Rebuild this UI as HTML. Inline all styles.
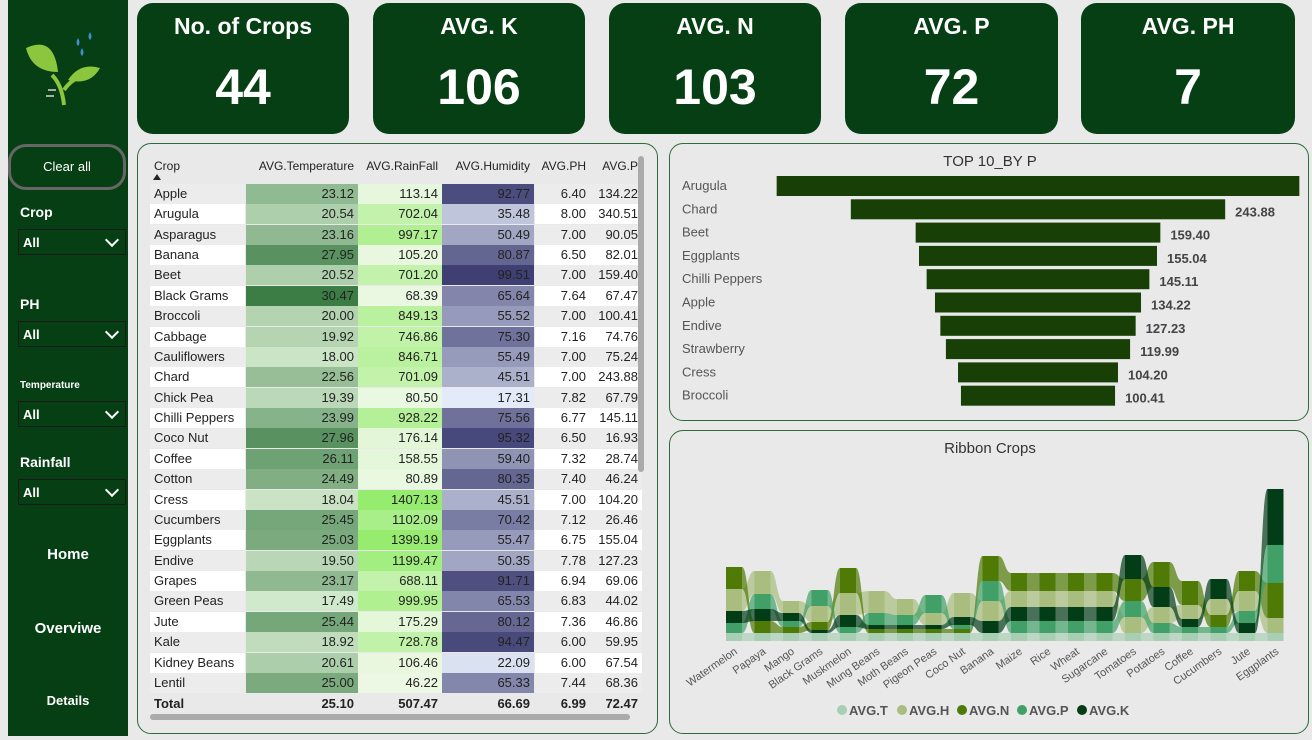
<!DOCTYPE html>
<html><head><meta charset="utf-8">
<style>
*{box-sizing:border-box;margin:0;padding:0}
body{width:1312px;height:736px;background:#e9e9e9;font-family:"Liberation Sans","DejaVu Sans",sans-serif;position:relative;overflow:hidden}
.abs{position:absolute}
#side{left:8px;top:0;width:120px;height:736px;background:#073f15}
.kpi{position:absolute;top:3px;height:131px;background:#073f15;border-radius:16px;color:#fff;text-align:center}
.kpi .t{font-size:23px;margin-top:10px;font-weight:bold}
.kpi .v{font-size:50px;font-weight:bold;margin-top:18px}
.panel{position:absolute;border:1px solid #2f6b3a;border-radius:14px;background:#e9e9e9}
.sl{color:#fff;font-weight:bold;font-size:14px;position:absolute;left:12px}
.dd{position:absolute;left:10px;width:108px;height:26px;border:1px solid #1a1a1a;color:#fff;font-size:13px;font-weight:bold;padding:5px 4px}
.dd:after{content:"";position:absolute;right:8px;top:5px;width:8px;height:8px;border-right:2px solid #fff;border-bottom:2px solid #fff;transform:rotate(45deg)}
.nav{position:absolute;left:0;width:120px;text-align:center;color:#fff;font-weight:bold;font-size:15px}
#tbl div{position:absolute;font-size:13px;color:#222;white-space:nowrap}
#tbl div.hd{font-size:12px}
</style></head><body>
<div id="side" class="abs">
 <svg class="abs" style="left:16px;top:30px" width="80" height="80">
  <path d="M40 75 Q38 55 28 45" stroke="#8cc63f" stroke-width="4" fill="none"/>
  <path d="M40 60 Q48 48 62 45" stroke="#8cc63f" stroke-width="4" fill="none"/>
  <path d="M2 18 Q30 5 34 42 Q8 42 2 18Z" fill="#8cc63f"/>
  <path d="M44 50 Q56 32 76 38 Q66 56 44 50Z" fill="#8cc63f"/>
  <path d="M54 8 q3 5 0 8 q-3-3 0-8Z M66 2 q3 5 0 8 q-3-3 0-8Z M58 18 q3 5 0 8 q-3-3 0-8Z" fill="#3b8fd6"/>
  <path d="M24 60 h8 M22 66 h8" stroke="#aaa" stroke-width="2"/>
 </svg>
 <div class="abs" style="left:0;top:144px;width:118px;height:46px;border:3px solid #666;border-radius:18px;color:#fff;font-size:13px;text-align:center;line-height:40px">Clear all</div>
 <div class="sl" style="top:204px">Crop</div>
 <div class="dd" style="top:229px">All</div>
 <div class="sl" style="top:296px">PH</div>
 <div class="dd" style="top:321px">All</div>
 <div class="sl" style="top:380px;font-size:10px">Temperature</div>
 <div class="dd" style="top:401px">All</div>
 <div class="sl" style="top:454px">Rainfall</div>
 <div class="dd" style="top:479px">All</div>
 <div class="nav" style="top:546px">Home</div>
 <div class="nav" style="top:620px">Overviwe</div>
 <div class="nav" style="top:693px;font-size:13px">Details</div>
</div>

<div class="kpi" style="left:137px;width:212px"><div class="t">No. of Crops</div><div class="v">44</div></div>
<div class="kpi" style="left:373px;width:212px"><div class="t">AVG. K</div><div class="v">106</div></div>
<div class="kpi" style="left:609px;width:212px"><div class="t">AVG. N</div><div class="v">103</div></div>
<div class="kpi" style="left:845px;width:213px"><div class="t">AVG. P</div><div class="v">72</div></div>
<div class="kpi" style="left:1081px;width:214px"><div class="t">AVG. PH</div><div class="v">7</div></div>

<div class="panel" style="left:137px;top:143px;width:521px;height:591px">
 <div id="tbl" class="abs" style="left:0;top:0;width:521px;height:591px"></div>
 <div class="abs" style="left:500px;top:12px;width:6px;height:316px;background:#aaa;border-radius:3px"></div>
 <div class="abs" style="left:12px;top:570px;width:480px;height:6px;background:#aaa;border-radius:3px"></div>
</div>

<div class="panel" style="left:669px;top:143px;width:640px;height:278px">
 <svg id="bars" width="640" height="278"></svg>
</div>
<div class="panel" style="left:669px;top:430px;width:640px;height:304px">
 <svg id="rib" width="640" height="304"></svg>
</div>

<script>
const rowsCrop=["Apple","Arugula","Asparagus","Banana","Beet","Black Grams","Broccoli","Cabbage","Cauliflowers","Chard","Chick Pea","Chilli Peppers","Coco Nut","Coffee","Cotton","Cress","Cucumbers","Eggplants","Endive","Grapes","Green Peas","Jute","Kale","Kidney Beans","Lentil"];
const colTemp=[23.12,20.54,23.16,27.95,20.52,30.47,20.00,19.92,18.00,22.56,19.39,23.99,27.96,26.11,24.49,18.04,25.45,25.03,19.50,23.17,17.49,25.44,18.92,20.61,25.00];
const colRain=[113.14,702.04,997.17,105.20,701.20,68.39,849.13,746.86,846.71,701.09,80.50,928.22,176.14,158.55,80.89,1407.13,1102.09,1399.19,1199.47,688.11,999.95,175.29,728.78,106.46,46.22];
const colHum=[92.77,35.48,50.49,80.87,99.51,65.64,55.52,75.30,55.49,45.51,17.31,75.56,95.32,59.40,80.35,45.51,70.42,55.47,50.35,91.71,65.53,80.12,94.47,22.09,65.33];
const colPH=[6.40,8.00,7.00,6.50,7.00,7.64,7.00,7.16,7.00,7.00,7.82,6.77,6.50,7.32,7.40,7.00,7.12,6.75,7.78,6.94,6.83,7.36,6.00,6.00,7.44];
const colP=[134.22,340.51,90.05,82.01,159.40,67.47,100.41,74.76,75.24,243.88,67.79,145.11,16.93,28.74,46.24,104.20,26.46,155.04,127.23,69.06,44.02,46.86,59.95,67.54,68.36];
const totals=["25.10","507.47","66.69","6.99","72.47"];

function mix(a,b,t){t=Math.max(0,Math.min(1,t));return "rgb("+a.map((v,i)=>Math.round(v+(b[i]-v)*t)).join(",")+")";}
const T=document.getElementById("tbl");
function cell(txt,x,y,w,h,bg,align,bold,name,cls){const d=document.createElement("div");


if(cls)d.className=cls;
d.style.cssText=`left:${x}px;top:${y}px;width:${w}px;height:${h}px;line-height:${h}px;text-align:${align};padding:0 4px;${bg?"background:"+bg+";":""}${bold?"font-weight:bold;":""}`;d.textContent=txt;T.appendChild(d);}
const cols=[[108,112,"AVG.Temperature"],[220,84,"AVG.RainFall"],[304,92,"AVG.Humidity"],[397,55,"AVG.PH"],[452,52,"AVG.P"]];
cell("Crop",12,13,80,18,null,"left",false,"header-crop","hd");
cols.forEach((c,i)=>cell(c[2],c[0],13,c[1],18,null,"right",false,"header-col","hd"));
const s=document.createElementNS("http://www.w3.org/2000/svg","svg");


s.style.cssText="position:absolute;left:15px;top:30px";s.setAttribute("width","10");s.setAttribute("height","6");s.innerHTML='<path d="M0 6L4 0L8 6Z" fill="#222"/>';T.appendChild(s);
rowsCrop.forEach((c,i)=>{const y=40+i*20.37,h=20;
 cell(c,12,y,95,h,i%2?"#ffffff":"#ececec","left",false,"row-crop");
 cell(colTemp[i].toFixed(2),108,y,112,h,mix([214,236,208],[60,125,70],(colTemp[i]-17)/13.5),"right",false,"cell-temp");
 cell(colRain[i].toFixed(2),220,y,84,h,mix([236,248,228],[150,236,110],(colRain[i]-40)/1370),"right",false,"cell-rain");
 cell(colHum[i].toFixed(2),304,y,92,h,mix([232,240,252],[62,62,115],(colHum[i]-15)/85),"right",false,"cell-hum");
 cell(colPH[i].toFixed(2),397,y,55,h,i%2?"#ffffff":"#ececec","right",false,"cell-ph");
 cell(colP[i].toFixed(2),452,y,52,h,i%2?"#ffffff":"#ececec","right",false,"cell-p");
});
cell("Total",12,550,95,20,null,"left",true,"total-label");
totals.forEach((t,i)=>cell(t,cols[i][0],550,cols[i][1],20,null,"right",true,"total-value"));

const topCrops=["Arugula","Chard","Beet","Eggplants","Chilli Peppers","Apple","Endive","Strawberry","Cress","Broccoli"];
const topVals=[340.51,243.88,159.40,155.04,145.11,134.22,127.23,119.99,104.20,100.41];
const NS="http://www.w3.org/2000/svg";
function el(p,tag,at){const e=document.createElementNS(NS,tag);for(const k in at)e.setAttribute(k,at[k]);p.appendChild(e);return e;}
const B=document.getElementById("bars");
const bx=v=>v*1.535, cx=368;
let t=el(B,"text",{x:320,y:22,"text-anchor":"middle","font-size":15,fill:"#333"});t.textContent="TOP 10_BY P";


topCrops.forEach((c,i)=>{const y=32+i*23.3;
 const lb=el(B,"text",{x:12,y:y+14,"font-size":13,fill:"#555"});lb.textContent=c;
 
 
 const w=bx(topVals[i]);
 const r=el(B,"rect",{x:cx-w/2,y:y,width:w,height:20,fill:"#173f06"});
 
 
 if(i>0){const v=el(B,"text",{x:cx+w/2+10,y:y+17,"font-size":13,"font-weight":"bold",fill:"#444"});v.textContent=topVals[i].toFixed(2);
 
 }
});

const ribCats=["Watermelon","Papaya","Mango","Black Grams","Muskmelon","Mung Beans","Moth Beans","Pigeon Peas","Coco Nut","Banana","Maize","Rice","Wheat","Sugarcane","Tomatoes","Potatoes","Coffee","Cucumbers","Jute","Eggplants"];
const serT=[8,8,8,8,8,8,8,8,8,8,8,8,8,8,8,8,8,8,8,8];
const serH=[22,23,12,16,22,22,16,12,24,20,16,16,16,16,16,16,14,16,20,15];
const serN=[22,12,6,8,25,4,4,4,4,25,18,18,18,18,22,25,24,12,20,35];
const serP=[10,15,6,16,6,12,10,18,4,20,12,12,12,12,16,10,6,6,12,38];
const serK=[12,12,8,3,12,4,4,4,8,12,14,14,14,14,24,20,8,20,10,56];
const series=[["AVG.T",serT,"#a8cfb3"],["AVG.H",serH,"#a8bd7e"],["AVG.N",serN,"#4f7a06"],["AVG.P",serP,"#41a067"],["AVG.K",serK,"#033d18"]];
const R=document.getElementById("rib");
t=el(R,"text",{x:320,y:22,"text-anchor":"middle","font-size":15,fill:"#333"});t.textContent="Ribbon Crops";


const base=210, x0=64, step=28.5, cw=16;
const xs=i=>x0+i*step;
const stacks=ribCats.map((c,i)=>{const o={};let y=base;o[0]=[y-serT[i],y];y-=serT[i];
 const idx=[1,2,3,4].sort((a,b)=>series[a][1][i]-series[b][1][i]);
 idx.forEach(k=>{const v=series[k][1][i];o[k]=[y-v,y];y-=v;});return o;});
series.forEach((s,k)=>{
 for(let i=0;i<ribCats.length-1;i++){const a=stacks[i][k],b=stacks[i+1][k];const x1=xs(i)+cw/2,x2=xs(i+1)-cw/2,m=(x1+x2)/2;
  const p=el(R,"path",{d:`M${x1} ${a[0]}C${m} ${a[0]} ${m} ${b[0]} ${x2} ${b[0]}L${x2} ${b[1]}C${m} ${b[1]} ${m} ${a[1]} ${x1} ${a[1]}Z`,fill:s[2],opacity:0.7});
  
  }
 ribCats.forEach((c,i)=>{const a=stacks[i][k];
  const r=el(R,"rect",{x:xs(i)-cw/2,y:a[0],width:cw,height:a[1]-a[0],fill:s[2]});
  
  });
});
ribCats.forEach((c,i)=>{const tx=el(R,"text",{x:xs(i)+4,y:base+12,"font-size":11,fill:"#555","text-anchor":"end",transform:`rotate(-35 ${xs(i)+4} ${base+12})`});tx.textContent=c;
 
 });
let lx=172;
series.forEach(s=>{
 const c=el(R,"circle",{cx:lx,cy:279,r:5,fill:s[2]});
 
 
 const tx=el(R,"text",{x:lx+7,y:284,"font-size":13,"font-weight":"bold",fill:"#555"});tx.textContent=s[0];
 
 
 lx+=s[0].length*8+20;
});
</script>
</body></html>
